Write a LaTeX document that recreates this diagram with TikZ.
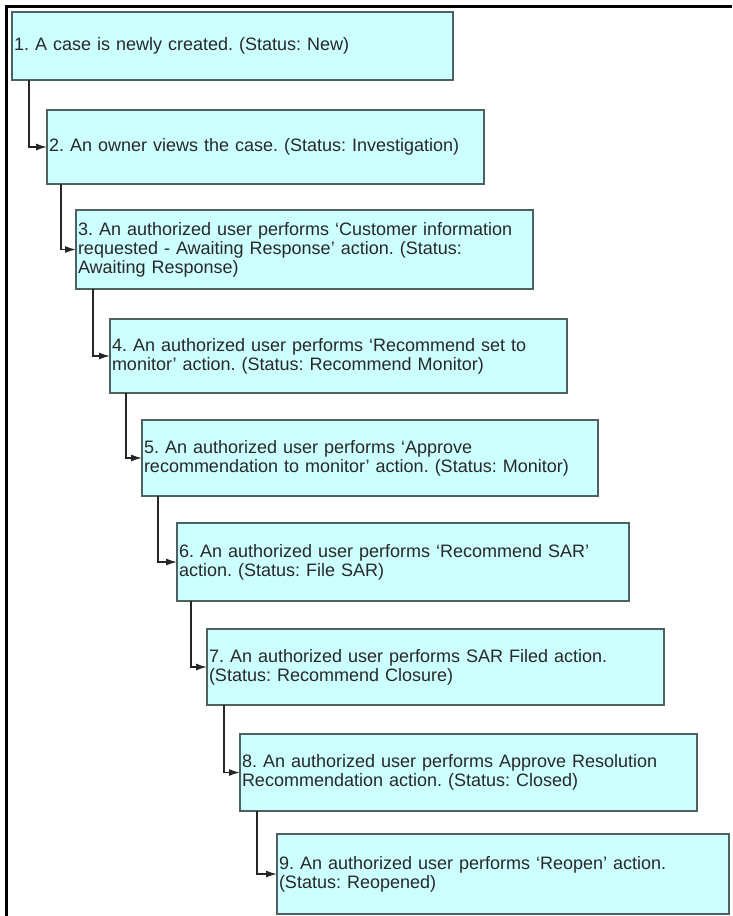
\documentclass[tikz,border=0pt]{standalone}
\usepackage{fontspec}
\setmainfont{Liberation Sans}
\usetikzlibrary{arrows.meta}
\definecolor{boxfill}{RGB}{204,255,255}
\definecolor{boxline}{RGB}{78,96,96}
\definecolor{txt}{RGB}{40,40,40}
\frenchspacing
\begin{document}
\begin{tikzpicture}[x=1pt,y=-1pt,
  box/.style={draw=boxline, fill=boxfill, line width=1.4pt, rectangle,
    anchor=north west, outer sep=0pt, inner xsep=2pt, inner ysep=0pt,
    align=left, font=\fontsize{18}{19}\selectfont, text=txt},
  conn/.style={draw=black!85, line width=1.4pt, -{Latex[length=11pt,width=7pt]}}]
\useasboundingbox (0,0) rectangle (732,916);
\fill[white] (0,0) rectangle (732,916);
\draw[line width=3pt] (6,916) -- (6,6) -- (732,6);

\node[box, text width=437pt, minimum width=441pt, minimum height=68pt] (b1) at (12,12)
  {1. A case is newly created. (Status: New)};
\node[box, text width=433pt, minimum width=437pt, minimum height=74pt] (b2) at (47,110)
  {2. An owner views the case. (Status: Investigation)};
\node[box, text width=453pt, minimum width=457pt, minimum height=79pt] (b3) at (76,210)
  {3. An authorized user performs ‘Customer information\\requested - Awaiting Response’ action. (Status:\\Awaiting Response)};
\node[box, text width=453pt, minimum width=457pt, minimum height=74pt] (b4) at (110,319)
  {4. An authorized user performs ‘Recommend set to\\monitor’ action. (Status: Recommend Monitor)};
\node[box, text width=452pt, minimum width=456pt, minimum height=76pt] (b5) at (142,420)
  {5. An authorized user performs ‘Approve\\recommendation to monitor’ action. (Status: Monitor)};
\node[box, text width=448pt, minimum width=452pt, minimum height=78pt] (b6) at (177,523)
  {6. An authorized user performs ‘Recommend SAR’\\action. (Status: File SAR)};
\node[box, text width=453pt, minimum width=457pt, minimum height=76pt] (b7) at (207,629)
  {7. An authorized user performs SAR Filed action.\\(Status: Recommend Closure)};
\node[box, text width=453pt, minimum width=457pt, minimum height=77pt] (b8) at (240,734)
  {8. An authorized user performs Approve Resolution\\Recommendation action. (Status: Closed)};
\node[box, text width=448pt, minimum width=452pt, minimum height=80pt] (b9) at (277,834)
  {9. An authorized user performs ‘Reopen’ action.\\(Status: Reopened)};

\draw[conn] ([xshift=17pt]b1.south west) |- (b2.west);
\draw[conn] ([xshift=14pt]b2.south west) |- (b3.west);
\draw[conn] ([xshift=17pt]b3.south west) |- (b4.west);
\draw[conn] ([xshift=16pt]b4.south west) |- (b5.west);
\draw[conn] ([xshift=16pt]b5.south west) |- (b6.west);
\draw[conn] ([xshift=14pt]b6.south west) |- (b7.west);
\draw[conn] ([xshift=17pt]b7.south west) |- (b8.west);
\draw[conn] ([xshift=17pt]b8.south west) |- (b9.west);
\end{tikzpicture}
\end{document}
